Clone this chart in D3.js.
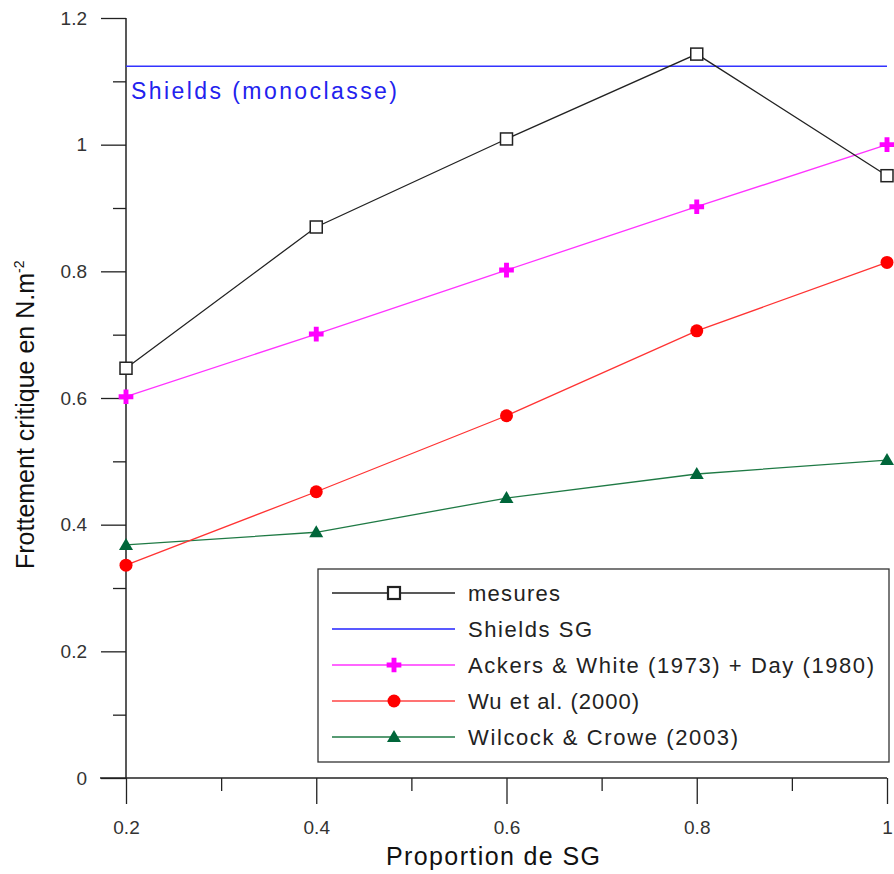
<!DOCTYPE html>
<html><head><meta charset="utf-8">
<script src="https://cdn.jsdelivr.net/npm/d3@7"></script>
<style>body{margin:0;background:#fff}svg{display:block}text{font-family:"Liberation Sans",Arial,sans-serif}</style>
</head><body>
<script>
const xValues = [0.2, 0.4, 0.6, 0.8, 1.0];
const mesures = [0.647, 0.870, 1.009, 1.143, 0.951];
const ackers = [0.602, 0.701, 0.802, 0.902, 1.0];
const wu = [0.336, 0.452, 0.572, 0.706, 0.814];
const wilcock = [0.368, 0.388, 0.442, 0.480, 0.502];
const shieldsSG = 1.124;
const xTicks = [0.2, 0.4, 0.6, 0.8, 1];
const yTicks = [0, 0.2, 0.4, 0.6, 0.8, 1, 1.2];
const legendLabels = ["mesures", "Shields SG", "Ackers & White (1973) + Day (1980)", "Wu et al. (2000)", "Wilcock & Crowe (2003)"];

const W = 894, H = 874;
const svg = d3.select("body").append("svg").attr("width", W).attr("height", H);
const x = d3.scaleLinear().domain([0.2, 1]).range([126, 887]);
const y = d3.scaleLinear().domain([0, 1.2]).range([778, 18]);

// axes
const fmt = d => d === 1 ? "1" : d === 0 ? "0" : d3.format(".1f")(d);
const yAxis = svg.append("g").attr("transform", "translate(126,0)")
  .call(d3.axisLeft(y).tickValues(yTicks).tickSize(25).tickPadding(14).tickFormat(fmt));
const yMinor = svg.append("g").attr("transform", "translate(126,0)")
  .call(d3.axisLeft(y).tickValues([0.1,0.3,0.5,0.7,0.9,1.1]).tickSize(13).tickFormat(""));
const xAxis = svg.append("g").attr("transform", "translate(0,778)")
  .call(d3.axisBottom(x).tickValues(xTicks).tickSize(26).tickPadding(17).tickFormat(fmt));
const xMinor = svg.append("g").attr("transform", "translate(0,778)")
  .call(d3.axisBottom(x).tickValues([0.3,0.5,0.7,0.9]).tickSize(13).tickFormat(""));
[yAxis, yMinor, xAxis, xMinor].forEach(g => {
  g.select(".domain").remove();
  g.selectAll(".tick line").attr("stroke", "#222").attr("stroke-width", 1.3);
  g.selectAll(".tick text").attr("font-size", 19).attr("fill", "#333");
});
svg.append("line").attr("x1", 126).attr("x2", 126).attr("y1", y(1.2)).attr("y2", y(0)).attr("stroke", "#222").attr("stroke-width", 1.5);
svg.append("line").attr("x1", 100).attr("x2", x(1)).attr("y1", y(0)).attr("y2", y(0)).attr("stroke", "#222").attr("stroke-width", 1.5);

// axis titles
svg.append("text").attr("x", 386).attr("y", 865).attr("font-size", 25).attr("fill", "#111")
  .attr("textLength", 214).attr("lengthAdjust", "spacing").text("Proportion de SG");
const yl = svg.append("text").attr("transform", "translate(34,569) rotate(-90)").attr("font-size", 25).attr("fill", "#111");
yl.append("tspan").attr("textLength", 296).attr("lengthAdjust", "spacing").text("Frottement critique en N.m");
yl.append("tspan").attr("font-size", 14).attr("dy", -10).text("-2");

// Shields line
svg.append("line").attr("x1", x(0.2)).attr("x2", x(1)).attr("y1", y(shieldsSG)).attr("y2", y(shieldsSG)).attr("stroke", "#3333ff").attr("stroke-width", 1.5);
svg.append("text").attr("x", 131).attr("y", 99).attr("font-size", 23).attr("fill", "#2222ee")
  .attr("textLength", 266).attr("lengthAdjust", "spacing").text("Shields (monoclasse)");

const line = d3.line().x((d, i) => x(xValues[i])).y(d => y(d));
const series = [
  {vals: wilcock, color: "#1f7a45", mcolor: "#00663a", marker: "tri"},
  {vals: wu, color: "#ff3333", mcolor: "#ff0000", marker: "circle"},
  {vals: ackers, color: "#ff33ff", mcolor: "#ff00ff", marker: "plus"},
  {vals: mesures, color: "#222", mcolor: "#222", marker: "square"}
];
function drawMarker(g, type, cx, cy, color, sw) {
  if (type === "square") g.append("rect").attr("x", cx - 6).attr("y", cy - 6).attr("width", 12).attr("height", 12).attr("fill", "#fff").attr("stroke", color).attr("stroke-width", sw || 1.5);
  else if (type === "circle") g.append("circle").attr("cx", cx).attr("cy", cy).attr("r", 6.5).attr("fill", color);
  else if (type === "plus") g.append("path").attr("d", d3.symbol().type(d3.symbolCross).size(120)()).attr("transform", `translate(${cx},${cy})`).attr("fill", color);
  else if (type === "tri") g.append("path").attr("d", `M${cx},${cy-7}L${cx+7},${cy+5}L${cx-7},${cy+5}Z`).attr("fill", color);
}
series.forEach(s => {
  svg.append("path").datum(s.vals).attr("d", line).attr("fill", "none").attr("stroke", s.color).attr("stroke-width", 1.3);
  const g = svg.append("g");
  s.vals.forEach((v, i) => drawMarker(g, s.marker, x(xValues[i]), y(v), s.mcolor));
});

// legend
const lg = svg.append("g");
lg.append("rect").attr("x", 318).attr("y", 569).attr("width", 571).attr("height", 193).attr("fill", "#fff").attr("stroke", "#333").attr("stroke-width", 1.3);
const legItems = [
  {color: "#222", mcolor: "#222", marker: "square", len: 92},
  {color: "#2222ff", marker: null, len: 124},
  {color: "#ff33ff", mcolor: "#ff00ff", marker: "plus", len: 406},
  {color: "#ff4444", mcolor: "#ff0000", marker: "circle", len: 171},
  {color: "#1f7a45", mcolor: "#00663a", marker: "tri", len: 270}
];
legItems.forEach((it, i) => {
  const cy = 593 + i * 36;
  lg.append("line").attr("x1", 332).attr("x2", 455).attr("y1", cy).attr("y2", cy).attr("stroke", it.color).attr("stroke-width", 1.3);
  if (it.marker) drawMarker(lg, it.marker, 394, cy, it.mcolor, 2.2);
  lg.append("text").attr("x", 468).attr("y", cy + 8).attr("font-size", 22).attr("fill", "#222")
    .attr("textLength", it.len).attr("lengthAdjust", "spacing").text(legendLabels[i]);
});
</script>
</body></html>
